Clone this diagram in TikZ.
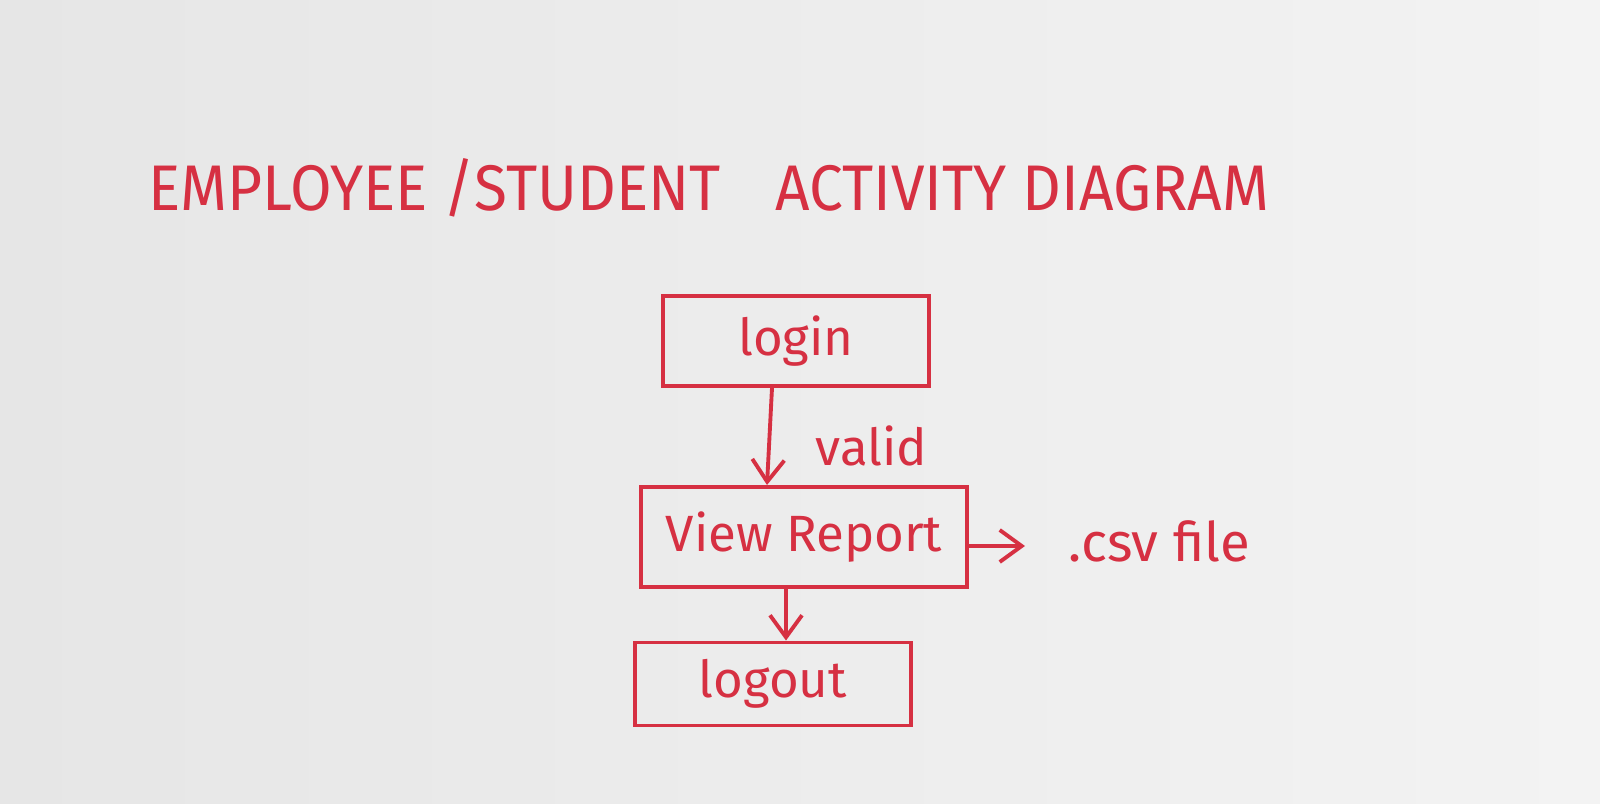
\documentclass[tikz,border=0pt]{standalone}
\usepackage{fontspec}
\setmainfont{Fira Sans}
\usetikzlibrary{arrows.meta}
\definecolor{ink}{RGB}{214,48,66}
\definecolor{boardL}{RGB}{230,230,230}
\definecolor{boardR}{RGB}{243,243,243}
\begin{document}
\begin{tikzpicture}[x=0.01cm,y=-0.01cm,
  actbox/.style={draw=ink,line width=1.1pt,inner sep=0pt,
    text=ink,font=\fontsize{14.5}{17}\selectfont},
  flow/.style={draw=ink,line width=1.1pt,-{Straight Barb[length=2.2mm,width=3.2mm]}},
  lbl/.style={text=ink,font=\fontsize{14.5}{17}\selectfont,inner sep=0pt}]
  % board background
  \fill[left color=boardL,right color=boardR] (0,0) rectangle (1600,804);
  \useasboundingbox (0,0) rectangle (1600,804);

  % title
  \node[lbl] (title) at (709,188)
    {\resizebox{11.2cm}{0.52cm}{EMPLOYEE /STUDENT\hspace{0.9em}ACTIVITY DIAGRAM}};

  % activities
  \node[actbox,minimum width=2.66cm,minimum height=0.9cm] (login) at (796,341) {login};
  \node[actbox,minimum width=3.26cm,minimum height=1.0cm] (view) at (804,537) {View Report};
  \node[actbox,minimum width=2.76cm,minimum height=0.83cm] (logout) at (773,684) {logout};

  % flows
  \draw[flow] (login.south -| 772,0) -- (view.north -| 767,0)
    node[lbl,pos=0.6,anchor=west,xshift=0.45cm] (valid) {valid};
  \draw[flow] (view.south -| 786,0) -- (logout.north -| 786,0);
  \coordinate (csvend) at (1025,546);
  \draw[flow] (view.east |- csvend) -- (csvend);
  \node[lbl,anchor=west,font=\fontsize{15.5}{18}\selectfont] (csv) at (1068,541) {.csv file};
\end{tikzpicture}
\end{document}
